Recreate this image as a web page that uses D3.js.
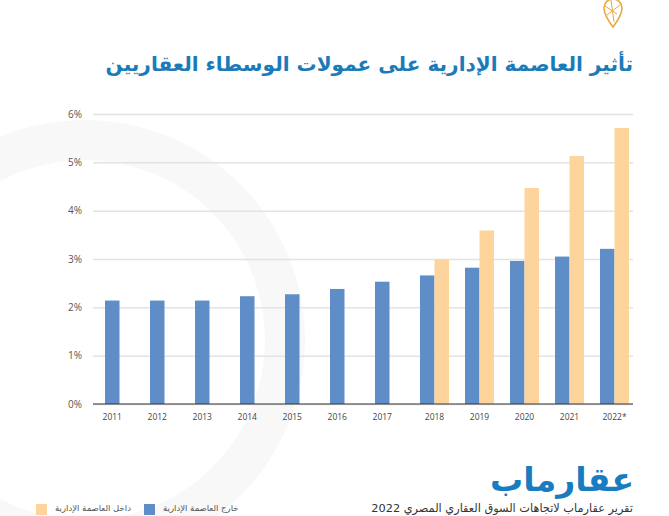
<!DOCTYPE html>
<html>
<head>
<meta charset="utf-8">
<script src="https://cdn.jsdelivr.net/npm/d3@7"></script>
<style>
  body { margin: 0; background: #fff; }
  svg { display: block; }
</style>
</head>
<body>
<script>
// values
const years = ['2011', '2012', '2013', '2014', '2015', '2016', '2017', '2018', '2019', '2020', '2021', '2022*']
const outside = [2.14, 2.14, 2.14, 2.23, 2.27, 2.38, 2.53, 2.66, 2.82, 2.96, 3.05, 3.21]
const inside = [null, null, null, null, null, null, null, 2.99, 3.59, 4.47, 5.13, 5.71]
const yTicks = [0, 1, 2, 3, 4, 5, 6]
const seriesNames = ['خارج العاصمة الإدارية', 'داخل العاصمة الإدارية']

const title = 'تأثير العاصمة الإدارية على عمولات الوسطاء العقاريين'
const brand = 'عقارماب'
const source = 'تقرير عقارماب لاتجاهات السوق العقاري المصري 2022'

const blue = 'rgb(95, 141, 200)'
const orange = 'rgb(253, 213, 156)'
const arabicFont = "'DejaVu Sans', sans-serif"
const latinFont = "'Open Sans', sans-serif"

function fitText(sel, width) {
    // shrink/grow the font so the text spans the given width
    let fs = parseFloat(sel.attr('font-size'))
    let w = sel.node().getComputedTextLength()
    sel.attr('font-size', fs * width / w)
}

function main() {
    const width = 669
    const height = 516

    const svg = d3.select('body')
        .append('svg')
        .attr('width', width)
        .attr('height', height)

    // faint watermark behind the chart
    svg.append('circle')
        .attr('cx', 85)
        .attr('cy', 340)
        .attr('r', 200)
        .attr('fill', 'none')
        .attr('stroke', '#f8f8f8')
        .attr('stroke-width', 40)

    // small pin logo at the top
    const pin = svg.append('g')
        .attr('fill', 'none')
        .attr('stroke', '#e9a93c')
        .attr('stroke-width', 1.6)
    pin.append('path')
        .attr('d', 'M613,27 C607,19 604,13 604,8 A9,9 0 0 1 622,8 C622,13 619,19 613,27 Z')
    pin.append('path')
        .attr('d', 'M605,6 L617,14 M607,15 L620,5 M611,0 L614,22')
        .attr('stroke-width', 1)

    const t = svg.append('text')
        .attr('x', 633)
        .attr('y', 71)
        .attr('direction', 'rtl')
        .attr('font-family', arabicFont)
        .attr('font-weight', 'bold')
        .attr('font-size', 22)
        .attr('fill', '#1b7bb9')
        .text(title)
    fitText(t, 528)

    const yScale = d3.scaleLinear()
        .domain([0, 6])
        .range([404, 114])

    const xScale = d3.scaleBand()
        .domain(years)
        .range([93, 633])

    const barW = 14.5
    const barOff = 12

    const yAxis = svg.append('g')
        .attr('transform', 'translate(93,0)')
        .call(d3.axisLeft(yScale)
            .tickValues(yTicks)
            .tickSize(-540)
            .tickPadding(11)
            .tickFormat(d => d + '%'))
    yAxis.select('.domain').remove()
    yAxis.selectAll('line')
        .attr('stroke', '#e3e3e3')
        .attr('stroke-width', 1.5)
    yAxis.selectAll('text')
        .attr('font-family', latinFont)
        .attr('font-size', 10)
        .attr('fill', '#555')

    svg.selectAll('.bar-out')
        .data(outside)
        .enter()
        .append('rect')
        .attr('class', 'bar-out')
        .attr('x', (d, i) => xScale(years[i]) + barOff)
        .attr('y', d => yScale(d))
        .attr('width', barW)
        .attr('height', d => yScale(0) - yScale(d))
        .attr('fill', blue)

    svg.selectAll('.bar-in')
        .data(inside)
        .enter()
        .filter(d => d != null)
        .append('rect')
        .attr('class', 'bar-in')
        .attr('x', (d, i) => xScale(years[inside.indexOf(d)]) + barOff + barW)
        .attr('y', d => yScale(d))
        .attr('width', barW)
        .attr('height', d => yScale(0) - yScale(d))
        .attr('fill', orange)

    // baseline
    svg.append('line')
        .attr('x1', 93)
        .attr('x2', 633)
        .attr('y1', yScale(0))
        .attr('y2', yScale(0))
        .attr('stroke', '#333')
        .attr('stroke-width', 1)

    svg.selectAll('.year')
        .data(years)
        .enter()
        .append('text')
        .attr('class', 'year')
        .attr('x', (d, i) => xScale(d) + barOff + (inside[i] == null ? barW / 2 : barW))
        .attr('y', 420)
        .attr('text-anchor', 'middle')
        .attr('font-family', latinFont)
        .attr('font-size', 8.5)
        .attr('fill', '#444')
        .text(d => d)

    // brand name
    const b = svg.append('text')
        .attr('x', 634)
        .attr('y', 491)
        .attr('direction', 'rtl')
        .attr('font-family', arabicFont)
        .attr('font-weight', 'bold')
        .attr('font-size', 38)
        .attr('fill', '#1a7cc0')
        .text(brand)
    fitText(b, 144)

    const s = svg.append('text')
        .attr('x', 633)
        .attr('y', 512)
        .attr('direction', 'rtl')
        .attr('font-family', arabicFont)
        .attr('font-size', 10.5)
        .attr('fill', '#333')
        .text(source)
    fitText(s, 262)

    // legend at the bottom left
    const legendX = [144, 36]
    const legendCol = [blue, orange]
    seriesNames.forEach((name, i) => {
        svg.append('rect')
            .attr('x', legendX[i])
            .attr('y', 504)
            .attr('width', 11)
            .attr('height', 11)
            .attr('fill', legendCol[i])
        svg.append('text')
            .attr('x', legendX[i] + 19)
            .attr('y', 511)
            .attr('direction', 'rtl')
            .attr('text-anchor', 'end')
            .attr('font-family', arabicFont)
            .attr('font-size', 8.5)
            .attr('fill', '#555')
            .text(name)
    })
}

main()
</script>
</body>
</html>
